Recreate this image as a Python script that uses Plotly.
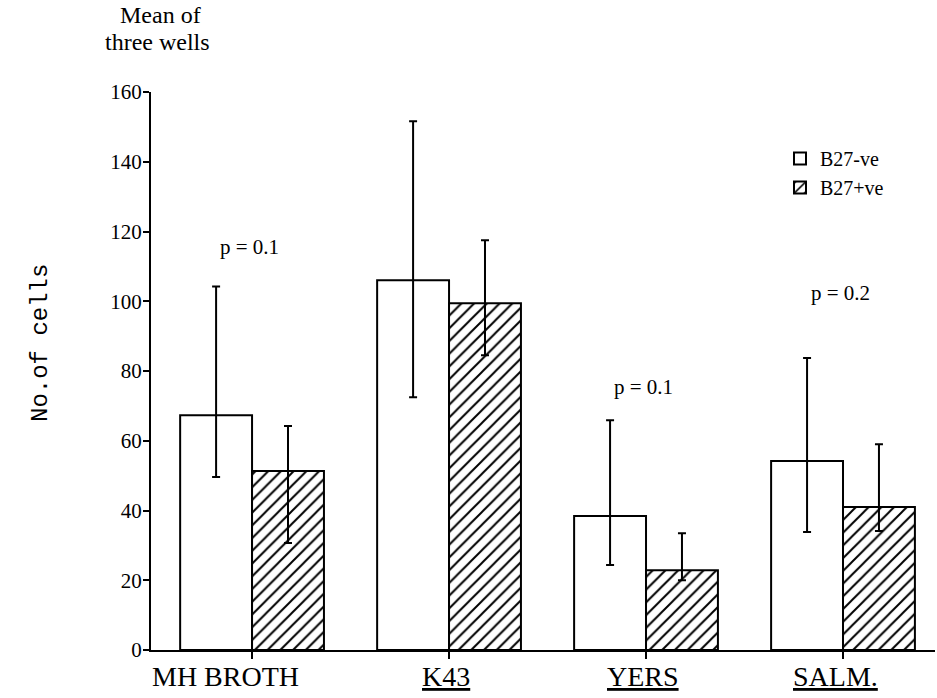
import plotly.graph_objects as go

categories = ["MH BROTH", "K43", "YERS", "SALM."]
tick_text = ["MH BROTH", "<u>K43</u>", "<u>YERS</u>", "<u>SALM.</u>"]
label_shift = [-27, -3, -3, -8]

neg_mean = [67.3, 106.0, 38.4, 54.2]
neg_upper = [104.2, 151.6, 65.9, 83.7]
neg_lower = [49.6, 72.5, 24.4, 33.8]

pos_mean = [51.3, 99.4, 22.9, 41.0]
pos_upper = [64.2, 117.5, 33.5, 59.0]
pos_lower = [30.7, 84.5, 20.0, 34.1]

p_labels = ["p = 0.1", "p = 0.7", "p = 0.1", "p = 0.2"]
p_y = [115.5, 163.0, 75.4, 102.3]

SERIF = "Liberation Serif, Times New Roman, serif"
MONO = "Liberation Mono, Courier New, monospace"

# plot area in pixels
L, R, T, B = 151, 935, 92, 650


def px_x(px):
    return (px - L) / (R - L)


def px_y(py):
    return (B - py) / (B - T)


def err(mean, up, lo):
    return dict(type="data", symmetric=False,
                array=[u - m for u, m in zip(up, mean)],
                arrayminus=[m - l for m, l in zip(mean, lo)],
                color="black", thickness=2, width=4)


fig = go.Figure()
fig.add_trace(go.Bar(
    x=categories, y=neg_mean, name="B27-ve",
    marker=dict(color="white", line=dict(color="black", width=2)),
    error_y=err(neg_mean, neg_upper, neg_lower),
))
fig.add_trace(go.Bar(
    x=categories, y=pos_mean, name="B27+ve",
    marker=dict(color="white", line=dict(color="black", width=2),
                pattern=dict(shape="/", size=9, solidity=0.22,
                             fgcolor="black", bgcolor="white", fgopacity=1)),
    error_y=err(pos_mean, pos_upper, pos_lower),
))

annotations = []
for c, t, s in zip(categories, tick_text, label_shift):
    annotations.append(dict(x=c, y=0, xref="x", yref="paper", text=t,
                            showarrow=False, xanchor="center", yanchor="top",
                            xshift=s, yshift=-9,
                            font=dict(family=SERIF, size=28, color="black")))
for c, t, yv in zip(categories, p_labels, p_y):
    annotations.append(dict(x=c, y=yv, xref="x", yref="y", text=t,
                            showarrow=False, xanchor="center", yanchor="middle",
                            xshift=-3,
                            font=dict(family=SERIF, size=21, color="black")))
annotations.append(dict(x=px_x(160), y=px_y(15), xref="paper", yref="paper",
                        text="Mean of", showarrow=False,
                        xanchor="center", yanchor="middle",
                        font=dict(family=SERIF, size=24, color="black")))
annotations.append(dict(x=px_x(157), y=px_y(42), xref="paper", yref="paper",
                        text="three wells", showarrow=False,
                        xanchor="center", yanchor="middle",
                        font=dict(family=SERIF, size=24, color="black")))
annotations.append(dict(x=px_x(40), y=px_y(343), xref="paper", yref="paper",
                        text="No.of cells", showarrow=False, textangle=-90,
                        xanchor="center", yanchor="middle",
                        font=dict(family=MONO, size=24, color="black")))

fig.update_layout(
    width=937, height=698,
    margin=dict(l=L, r=937 - R, t=T, b=698 - B),
    paper_bgcolor="white", plot_bgcolor="white",
    barmode="group", bargap=0.27, bargroupgap=0,
    showlegend=True,
    legend=dict(x=px_x(780), y=px_y(139), xanchor="left", yanchor="top",
                font=dict(family=SERIF, size=20, color="black"),
                bgcolor="rgba(0,0,0,0)", tracegroupgap=0),
    annotations=annotations,
    font=dict(family=SERIF, color="black"),
)
fig.update_xaxes(
    type="category", range=[-0.513, 3.467],
    showline=True, linecolor="black", linewidth=2,
    ticks="outside", ticklen=7, tickwidth=2, tickcolor="black",
    showticklabels=False, showgrid=False, zeroline=False,
)
fig.update_yaxes(
    range=[0, 160], tickvals=[0, 20, 40, 60, 80, 100, 120, 140, 160],
    showline=True, linecolor="black", linewidth=2,
    ticks="outside", ticklen=6, tickwidth=2, tickcolor="black",
    tickfont=dict(family=SERIF, size=21, color="black"),
    ticklabelstandoff=-3,
    showgrid=False, zeroline=False,
)

fig.write_html("out.html")
